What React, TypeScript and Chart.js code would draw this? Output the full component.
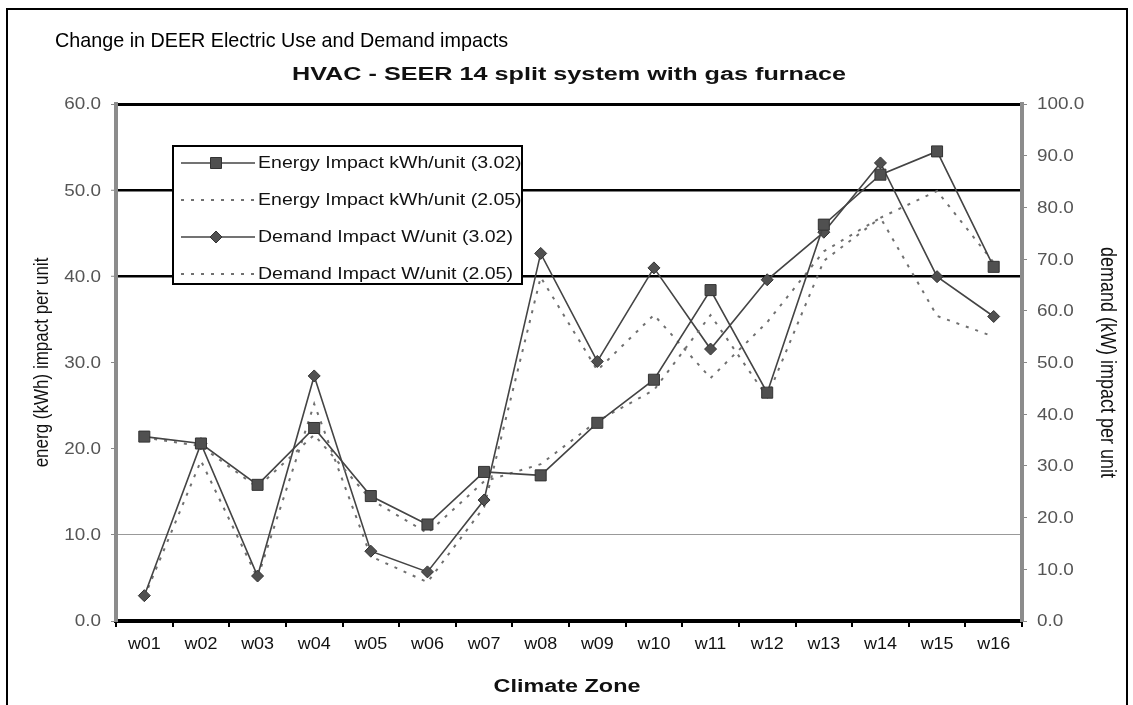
import React, { useEffect, useRef } from 'react';
import { Chart, registerables } from 'chart.js';

Chart.register(...registerables);

const zones = ['w01', 'w02', 'w03', 'w04', 'w05', 'w06', 'w07', 'w08', 'w09', 'w10', 'w11', 'w12', 'w13', 'w14', 'w15', 'w16'];
const energy302 = [21.4, 20.6, 15.8, 22.4, 14.5, 11.2, 17.3, 16.9, 23.0, 28.0, 38.4, 26.5, 46.0, 51.8, 54.5, 41.1];
const energy205 = [21.3, 20.3, 15.5, 21.6, 14.1, 10.2, 16.2, 18.2, 23.2, 26.8, 35.5, 26.0, 41.8, 46.8, 49.9, 41.6];
const demand302 = [4.9, 34.3, 8.7, 47.4, 13.5, 9.5, 23.4, 71.1, 50.2, 68.3, 52.6, 66.0, 75.2, 88.6, 66.6, 58.9];
const demand205 = [4.6, 31.0, 8.3, 42.0, 12.5, 7.5, 22.0, 66.5, 48.5, 59.2, 47.0, 57.8, 71.5, 78.0, 59.0, 55.0];

const energyRange = [0, 60];
const demandRange = [0, 100];
const tickStep = 10;

const seriesLabels = [
  'Energy Impact kWh/unit (3.02)',
  'Energy Impact kWh/unit (2.05)',
  'Demand Impact W/unit (3.02)',
  'Demand Impact W/unit (2.05)',
];

const mainTitle = 'Change in DEER Electric Use and Demand impacts';
const chartTitle = 'HVAC - SEER 14 split system with gas furnace';
const xTitle = 'Climate Zone';
const yTitle = 'energ (kWh) impact per unit';
const y1Title = 'demand (kW) impact per unit';

const FONT = '"Liberation Sans", Arial, Helvetica, sans-serif';

function txt(
  ctx: CanvasRenderingContext2D,
  s: string,
  x: number,
  y: number,
  o: { size: number; bold?: boolean; color?: string; align?: CanvasTextAlign; baseline?: CanvasTextBaseline; sx?: number; rot?: number }
) {
  ctx.save();
  ctx.translate(x, y);
  if (o.rot) ctx.rotate(o.rot);
  if (o.rot) ctx.scale(1, o.sx || 1);
  else ctx.scale(o.sx || 1, 1);
  ctx.font = `${o.bold ? 'bold ' : ''}${o.size}px ${FONT}`;
  ctx.fillStyle = o.color || '#000';
  ctx.textAlign = o.align || 'left';
  ctx.textBaseline = o.baseline || 'alphabetic';
  ctx.fillText(s, 0, 0);
  ctx.restore();
}

function marker(ctx: CanvasRenderingContext2D, style: string, x: number, y: number) {
  ctx.save();
  ctx.fillStyle = '#505050';
  ctx.strokeStyle = '#333';
  ctx.lineWidth = 1;
  ctx.beginPath();
  if (style === 'rect') {
    ctx.rect(x - 5.5, y - 5.5, 11, 11);
  } else {
    ctx.moveTo(x, y - 6);
    ctx.lineTo(x + 6, y);
    ctx.lineTo(x, y + 6);
    ctx.lineTo(x - 6, y);
    ctx.closePath();
  }
  ctx.fill();
  ctx.stroke();
  ctx.restore();
}

const decoPlugin = {
  id: 'deco',
  beforeDraw(chart: any) {
    const ctx = chart.ctx as CanvasRenderingContext2D;
    ctx.save();
    ctx.fillStyle = '#fff';
    ctx.fillRect(0, 0, chart.width, chart.height);
    ctx.restore();
  },
  afterDatasetsDraw(chart: any) {
    const ctx = chart.ctx as CanvasRenderingContext2D;
    const bx = 173, by = 146, bw = 349, bh = 138;
    ctx.save();
    ctx.fillStyle = '#fff';
    ctx.fillRect(bx, by, bw, bh);
    ctx.beginPath();
    ctx.rect(bx, by, bw, bh);
    ctx.clip();
    const rows = [163, 200, 237, 274];
    chart.data.datasets.forEach((ds: any, i: number) => {
      const y = rows[i];
      ctx.save();
      ctx.strokeStyle = ds.borderColor;
      ctx.lineWidth = ds.borderWidth;
      ctx.setLineDash(ds.borderDash || []);
      ctx.beginPath();
      ctx.moveTo(181, y);
      ctx.lineTo(255, y);
      ctx.stroke();
      ctx.restore();
      if (ds.pointRadius > 0) marker(ctx, ds.pointStyle, 216, y);
      txt(ctx, ds.label, 258, y + 1, { size: 16, sx: 1.22, color: '#111', baseline: 'middle' });
    });
    ctx.restore();
    ctx.save();
    ctx.strokeStyle = '#000';
    ctx.lineWidth = 2;
    ctx.strokeRect(bx, by, bw, bh);
    ctx.restore();
  },
  afterDraw(chart: any) {
    const ctx = chart.ctx as CanvasRenderingContext2D;
    const { x, y, y1 } = chart.scales;
    y.ticks.forEach((t: any) => {
      txt(ctx, t.label, 101, y.getPixelForValue(t.value) + 1, { size: 16, sx: 1.18, color: '#555', align: 'right', baseline: 'middle' });
    });
    y1.ticks.forEach((t: any) => {
      txt(ctx, t.label, 1037, y1.getPixelForValue(t.value) + 1, { size: 16, sx: 1.18, color: '#555', align: 'left', baseline: 'middle' });
    });
    x.ticks.forEach((t: any, i: number) => {
      txt(ctx, String(t.label), x.getPixelForTick(i), 649, { size: 16, sx: 1.12, color: '#111', align: 'center' });
    });
    const ca = chart.chartArea;
    const midY = (ca.top + ca.bottom) / 2;
    txt(ctx, yTitle, 48, midY, { size: 17, sx: 1.2, rot: -Math.PI / 2, color: '#111', align: 'center' });
    txt(ctx, y1Title, 1101, midY, { size: 18, sx: 1.2, rot: Math.PI / 2, color: '#111', align: 'center' });
    txt(ctx, xTitle, (ca.left + ca.right) / 2 - 2, 692, { size: 18, bold: true, sx: 1.3, color: '#111', align: 'center' });
    txt(ctx, chartTitle, (ca.left + ca.right) / 2, 80, { size: 18, bold: true, sx: 1.4, color: '#111', align: 'center' });
    txt(ctx, mainTitle, 55, 47, { size: 21, sx: 0.94, color: '#000' });
    ctx.save();
    ctx.strokeStyle = '#000';
    ctx.lineWidth = 2;
    ctx.beginPath();
    ctx.moveTo(7, 720);
    ctx.lineTo(7, 9);
    ctx.lineTo(1127, 9);
    ctx.lineTo(1127, 720);
    ctx.stroke();
    ctx.restore();
  },
};

export default function App() {
  const ref = useRef<HTMLCanvasElement | null>(null);
  useEffect(() => {
    if (!ref.current) return;
    const solid = {
      borderColor: '#444',
      borderWidth: 1.6,
      pointBackgroundColor: '#505050',
      pointBorderColor: '#333',
      pointBorderWidth: 1,
      tension: 0,
      fill: false,
    };
    const dotted = {
      borderColor: '#707070',
      borderWidth: 2,
      borderDash: [3, 7],
      pointRadius: 0,
      tension: 0,
      fill: false,
    };
    const chart = new Chart(ref.current, {
      type: 'line',
      data: {
        labels: zones,
        datasets: [
          { ...solid, label: seriesLabels[0], data: energy302, yAxisID: 'y', pointStyle: 'rect', pointRadius: 7.8 },
          { ...dotted, label: seriesLabels[1], data: energy205, yAxisID: 'y' },
          { ...solid, label: seriesLabels[2], data: demand302, yAxisID: 'y1', pointStyle: 'rectRot', pointRadius: 6 },
          { ...dotted, label: seriesLabels[3], data: demand205, yAxisID: 'y1' },
        ] as any,
      },
      options: {
        animation: false,
        responsive: false,
        devicePixelRatio: 1,
        layout: { padding: { top: 104, left: 0, right: 0, bottom: 0 } },
        plugins: { legend: { display: false }, title: { display: false }, tooltip: { enabled: false } },
        scales: {
          x: {
            type: 'category',
            offset: true,
            ticks: { display: false },
            grid: { offset: true, drawOnChartArea: false, drawTicks: true, tickLength: 6, color: '#000', lineWidth: 2 },
            border: { display: true, color: '#000', width: 4 },
            afterFit: (s: any) => { s.height = 84; },
          },
          y: {
            type: 'linear',
            position: 'left',
            min: energyRange[0],
            max: energyRange[1],
            ticks: { stepSize: tickStep, display: false, callback: (v: any) => Number(v).toFixed(1) },
            grid: {
              drawTicks: true,
              tickLength: 5,
              tickColor: '#888',
              tickWidth: 1,
              color: (c: any) => {
                const v = c.tick?.value;
                if (v === 60 || v === 50 || v === 40) return '#000';
                if (v === 10) return '#999';
                return 'rgba(0,0,0,0)';
              },
              lineWidth: (c: any) => {
                const v = c.tick?.value;
                if (v === 60) return 3;
                if (v === 50 || v === 40) return 2.5;
                return 1;
              },
            },
            border: { display: true, color: '#8c8c8c', width: 4 },
            afterFit: (s: any) => { s.width = 116; },
          },
          y1: {
            type: 'linear',
            position: 'right',
            min: demandRange[0],
            max: demandRange[1],
            ticks: { stepSize: tickStep, display: false, callback: (v: any) => Number(v).toFixed(1) },
            grid: { drawOnChartArea: false, drawTicks: true, tickLength: 5, color: '#888', lineWidth: 1 },
            border: { display: true, color: '#8c8c8c', width: 4 },
            afterFit: (s: any) => { s.width = 111; },
          },
        },
      } as any,
      plugins: [decoPlugin],
    });
    return () => chart.destroy();
  }, []);
  return (
    <div style={{ position: 'absolute', left: 0, top: 0, width: 1133, height: 705, background: '#fff' }}>
      <canvas ref={ref} width={1133} height={705} style={{ display: 'block' }} />
    </div>
  );
}
